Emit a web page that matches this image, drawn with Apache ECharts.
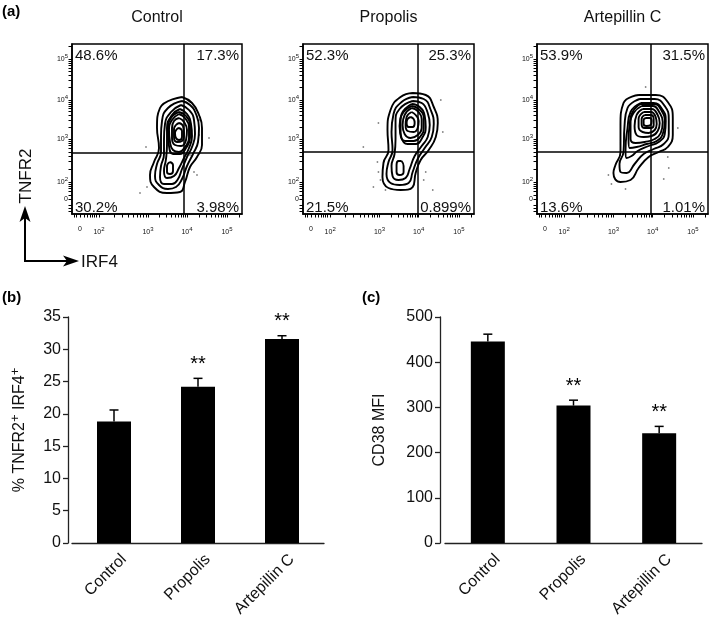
<!DOCTYPE html>
<html><head><meta charset="utf-8">
<script src="https://cdn.jsdelivr.net/npm/echarts@6/dist/echarts.min.js"></script>
<style>html,body{margin:0;padding:0;background:#fff}#c{width:709px;height:624px}</style>
</head><body><div id="c"></div>
<script>
// ---------- Panel (a): flow cytometry contour plots (display units of the biexponential axes) ----------
const flowTitles = ['Control', 'Propolis', 'Artepillin C'];
const quadrantPct = [
  ['48.6%', '17.3%', '30.2%', '3.98%'],
  ['52.3%', '25.3%', '21.5%', '0.899%'],
  ['53.9%', '31.5%', '13.6%', '1.01%']
];
const xTickPos = [8, 27, 76, 115, 155];
const xTickLabels = ['0', '10{s|2}', '10{s|3}', '10{s|4}', '10{s|5}'];
const yTickPos = [15, 32, 75, 114, 155];
const yTickLabels = ['0', '10{s|2}', '10{s|3}', '10{s|4}', '10{s|5}'];
const gateX = [112, 114, 113];
const gateY = [61, 62, 62];

const contoursControl = [
  [[110,117],[120,111],[127,99],[130,86],[130,69],[125,57],[118,47],[113,32],[108,22],[95,21],[82,27],[78,39],[82,52],[87,66],[85,86],[88,106],[110,117]],
  [[110,113],[118,109],[124,100],[127,86],[126,72],[121,60],[115,48],[110,35],[104,27],[96,25],[87,29],[83,38],[85,50],[89,62],[89,78],[90,93],[96,106],[110,113]],
  [[109,109],[117,104],[122,94],[123,80],[120,67],[115,57],[110,45],[106,35],[100,30],[92,30],[88,37],[89,48],[92,60],[92,75],[93,90],[99,102],[109,109]],
  [[108,105],[115,100],[119,90],[120,78],[117,66],[112,56],[107,46],[102,38],[95,36],[92,43],[94,55],[95,70],[95,86],[100,99],[108,105]],
  [[98,52],[101,49],[101,43],[98,40],[95,42],[95,48],[98,52]],
  [[107,102],[114,98],[118,88],[118,76],[114,66],[108,60],[101,60],[97,68],[96,84],[99,96],[107,102]],
  [[107,100],[113,96],[117,87],[117,76],[113,67],[107,62],[101,64],[98,72],[97,84],[100,94],[107,100]],
  [[107,96],[112,92],[115,84],[114,74],[109,68],[103,69],[100,76],[100,86],[102,93],[107,96]],
  [[107,91],[111,88],[112,80],[110,73],[105,72],[102,77],[102,85],[104,89],[107,91]],
  [[107,86],[110,83],[110,77],[107,74],[104,76],[103,81],[105,85],[107,86]]
];
const contoursPropolis = [
  [[109,121],[122,119],[130,107],[134,91],[132,77],[125,64],[117,54],[112,41],[109,27],[97,24],[85,26],[79,37],[80,51],[85,64],[84,84],[87,104],[97,117],[109,121]],
  [[109,117],[120,115],[127,104],[130,90],[128,77],[121,66],[114,55],[109,42],[105,31],[96,29],[87,31],[83,40],[85,52],[89,64],[88,82],[90,100],[98,112],[109,117]],
  [[109,113],[118,111],[124,101],[126,89],[124,77],[118,68],[111,58],[106,45],[102,36],[95,34],[89,38],[88,48],[91,60],[92,75],[92,92],[96,105],[109,113]],
  [[98,53],[100,48],[100,42],[96,39],[93,42],[93,49],[95,53],[98,53]],
  [[108,110],[116,107],[121,98],[122,87],[119,77],[112,70],[104,70],[98,76],[96,88],[98,100],[108,110]],
  [[108,108],[115,105],[120,96],[120,86],[117,78],[110,73],[102,73],[97,80],[97,92],[100,102],[108,108]],
  [[108,106],[114,103],[118,95],[118,86],[114,79],[107,76],[101,80],[99,89],[101,99],[108,106]],
  [[108,102],[112,99],[115,93],[114,86],[110,82],[104,83],[102,89],[103,97],[108,102]],
  [[107,97],[110,95],[111,91],[109,87],[105,87],[103,91],[104,95],[107,97]]
];
const contoursArtepillin = [
  [[101,119],[118,119],[130,112],[135,96],[135,79],[130,67],[121,62],[111,57],[101,46],[93,34],[83,32],[76,41],[78,49],[83,62],[83,89],[86,111],[101,119]],
  [[102,115],[117,115],[127,108],[131,95],[131,80],[126,70],[116,65],[106,60],[97,50],[89,41],[83,42],[82,50],[86,62],[87,88],[90,106],[102,115]],
  [[103,111],[116,111],[125,104],[128,93],[127,80],[121,72],[111,68],[100,63],[94,58],[89,56],[88,64],[90,86],[93,102],[103,111]],
  [[103,110],[116,110],[124,103],[127,92],[125,80],[119,73],[109,70],[99,67],[92,66],[91,75],[92,88],[95,102],[103,110]],
  [[104,108],[115,108],[122,101],[125,92],[123,81],[117,75],[107,72],[98,71],[93,75],[93,90],[96,101],[104,108]],
  [[105,105],[114,105],[120,99],[122,91],[120,83],[114,78],[106,77],[99,79],[97,88],[99,99],[105,105]],
  [[106,102],[113,102],[118,97],[119,90],[117,84],[111,81],[105,82],[101,87],[101,95],[106,102]],
  [[107,99],[113,99],[116,95],[116,89],[113,86],[107,86],[104,90],[104,95],[107,99]],
  [[108,96],[112,96],[114,93],[113,89],[109,88],[106,90],[106,94],[108,96]]
];
const dotsControl = [[74,67],[68,21],[128,94],[127,79],[122,42],[75,27],[118,59],[137,76],[125,39]];
const dotsPropolis = [[75,42],[77,34],[82,24],[74,52],[122,42],[120,34],[139,82],[137,114],[75,91],[60,67],[70,27],[129,24]];
const dotsArtepillin = [[71,39],[130,57],[131,46],[108,127],[140,86],[74,30],[88,25],[126,35]];

// ---------- Panels (b) and (c): bar charts ----------
const barCategories = ['Control', 'Propolis', 'Artepillin C'];
const pctMean = [18.8, 24.2, 31.6];
const pctErr = [1.8, 1.3, 0.5];
const mfiMean = [446, 304, 243];
const mfiErr = [16, 12, 15];
const significance = ['', '**', '**'];
const pctTicks = { min: 0, max: 35, interval: 5 };
const mfiTicks = { min: 0, max: 500, interval: 100 };

// ---------- layout ----------
const FONT = '"Liberation Sans", Arial, Helvetica, sans-serif';
const flowGrids = [
  { left: 72, top: 44, width: 170, height: 170 },
  { left: 303, top: 44, width: 171, height: 170 },
  { left: 537, top: 44, width: 171, height: 170 }
];
const gridB = { left: 72, top: 317, width: 252, height: 226 };
const gridC = { left: 445, top: 317, width: 257, height: 226 };

function decadeMinor(start, span, limit) {
  const out = [];
  for (let k = 2; k <= 9; k++) {
    const v = start + span * Math.log10(k);
    if (v <= limit) out.push(Math.round(v * 10) / 10);
  }
  return out;
}
const xMinor = [2, 4, 12, 15, 18, 20, 22, 24]
  .concat(decadeMinor(27, 49, 170), decadeMinor(76, 39, 170), decadeMinor(115, 40, 170), decadeMinor(155, 40, 170));
const yMinor = [3, 6, 9, 19, 23, 26, 28, 30]
  .concat(decadeMinor(32, 43, 170), decadeMinor(75, 39, 170), decadeMinor(114, 41, 170), decadeMinor(155, 41, 170));
const xAllTicks = xTickPos.concat(xMinor).sort((a, b) => a - b);
const yAllTicks = yTickPos.concat(yMinor).sort((a, b) => a - b);

const supRich = {
  s: { fontSize: 6, fontFamily: FONT, color: '#111', padding: [0, 0, 6, 0] }
};

const grids = [], xAxes = [], yAxes = [], series = [], graphics = [];
const contourSets = [contoursControl, contoursPropolis, contoursArtepillin];
const dotSets = [dotsControl, dotsPropolis, dotsArtepillin];

flowGrids.forEach((g, i) => {
  grids.push(Object.assign({ show: true, borderColor: '#000', borderWidth: 1.5, backgroundColor: 'transparent' }, g));
  const xi = xAxes.length, yi = yAxes.length;
  xAxes.push({
    type: 'value', gridIndex: i, min: 0, max: 170, position: 'bottom',
    axisLine: { show: true, lineStyle: { color: '#000', width: 1.5 } },
    axisTick: { show: true, customValues: xAllTicks, length: 3.5, lineStyle: { color: '#000', width: 1 } },
    axisLabel: {
      customValues: xTickPos, margin: 12, fontSize: 7, fontFamily: FONT, color: '#111', rich: supRich,
      formatter: v => xTickLabels[xTickPos.indexOf(v)]
    },
    splitLine: { show: false }
  });
  yAxes.push({
    type: 'value', gridIndex: i, min: 0, max: 170, position: 'left',
    axisLine: { show: true, lineStyle: { color: '#000', width: 1.5 } },
    axisTick: { show: true, customValues: yAllTicks, length: 3.5, lineStyle: { color: '#000', width: 1 } },
    axisLabel: {
      customValues: yTickPos, margin: 4, fontSize: 7, fontFamily: FONT, color: '#111', rich: supRich,
      formatter: v => yTickLabels[yTickPos.indexOf(v)]
    },
    splitLine: { show: false }
  });
  contourSets[i].forEach((c, k) => {
    series.push({
      type: 'line', xAxisIndex: xi, yAxisIndex: yi, data: c, smooth: 0.5, symbol: 'none',
      lineStyle: { color: '#000', width: 1.9 }, silent: true, z: 3,
      markLine: k === 0 ? {
        silent: true, symbol: 'none', label: { show: false },
        lineStyle: { color: '#000', width: 1.5, type: 'solid' },
        data: [{ xAxis: gateX[i] }, { yAxis: gateY[i] }]
      } : undefined
    });
  });
  series.push({
    type: 'scatter', xAxisIndex: xi, yAxisIndex: yi, data: dotSets[i], symbolSize: 1.8,
    itemStyle: { color: '#666' }, silent: true
  });
  graphics.push({ type: 'text', x: g.left + g.width / 2, y: 18,
    style: { text: flowTitles[i], font: '16px ' + FONT, fill: '#111', align: 'center', verticalAlign: 'middle' } });
  const p = quadrantPct[i];
  const f = '15px ' + FONT;
  graphics.push({ type: 'text', x: g.left + 3, y: g.top + 4, style: { text: p[0], font: f, fill: '#111', align: 'left', verticalAlign: 'top' } });
  graphics.push({ type: 'text', x: g.left + g.width - 3, y: g.top + 4, style: { text: p[1], font: f, fill: '#111', align: 'right', verticalAlign: 'top' } });
  graphics.push({ type: 'text', x: g.left + 3, y: g.top + g.height + 1, style: { text: p[2], font: f, fill: '#111', align: 'left', verticalAlign: 'bottom' } });
  graphics.push({ type: 'text', x: g.left + g.width - 3, y: g.top + g.height + 1, style: { text: p[3], font: f, fill: '#111', align: 'right', verticalAlign: 'bottom' } });
});

// axis direction arrows (TNFR2 / IRF4)
graphics.push({ type: 'line', shape: { x1: 25, y1: 262, x2: 25, y2: 218 }, style: { stroke: '#000', lineWidth: 2 } });
graphics.push({ type: 'polygon', shape: { points: [[25, 206], [19.5, 222], [25, 218], [30.5, 222]] }, style: { fill: '#000' } });
graphics.push({ type: 'line', shape: { x1: 24, y1: 261, x2: 68, y2: 261 }, style: { stroke: '#000', lineWidth: 2 } });
graphics.push({ type: 'polygon', shape: { points: [[79, 261], [63, 255.5], [67, 261], [63, 266.5]] }, style: { fill: '#000' } });
graphics.push({ type: 'text', x: 81, y: 262, style: { text: 'IRF4', font: '17px ' + FONT, fill: '#111', align: 'left', verticalAlign: 'middle' } });
graphics.push({ type: 'text', x: 26, y: 176, rotation: Math.PI / 2, style: { text: 'TNFR2', font: '17px ' + FONT, fill: '#111', align: 'center', verticalAlign: 'middle' } });

// panel letters
graphics.push({ type: 'text', x: 2, y: 4, style: { text: '(a)', font: 'bold 15px ' + FONT, fill: '#000' } });
graphics.push({ type: 'text', x: 2, y: 290, style: { text: '(b)', font: 'bold 15px ' + FONT, fill: '#000' } });
graphics.push({ type: 'text', x: 362, y: 290, style: { text: '(c)', font: 'bold 15px ' + FONT, fill: '#000' } });

// bar charts
function errorBarRenderer(sig) {
  return function (params, api) {
    const i = api.value(0);
    const top = api.coord([i, api.value(1)]);
    const mid = api.coord([i, api.value(2)]);
    const children = [
      { type: 'line', shape: { x1: top[0], y1: top[1], x2: mid[0], y2: mid[1] }, style: { stroke: '#000', lineWidth: 1.5 } },
      { type: 'line', shape: { x1: top[0] - 4.5, y1: top[1], x2: top[0] + 4.5, y2: top[1] }, style: { stroke: '#000', lineWidth: 1.5 } }
    ];
    const s = sig[params.dataIndex];
    if (s) children.push({ type: 'text', style: { text: s, x: top[0], y: top[1] - 4, align: 'center', verticalAlign: 'bottom', font: '20px ' + FONT, fill: '#000' } });
    return { type: 'group', children };
  };
}

function addBarPanel(g, means, errs, ticks, yName, nameGap, yOffset, labelMargin) {
  const gi = grids.length;
  grids.push(Object.assign({ show: false }, g));
  const xi = xAxes.length, yi = yAxes.length;
  xAxes.push({
    type: 'category', gridIndex: gi, data: barCategories,
    axisLine: { show: true, onZero: false, lineStyle: { color: '#222', width: 1.3 } },
    axisTick: { show: false },
    axisLabel: { rotate: 45, fontSize: 16, fontFamily: FONT, color: '#111', margin: 4, align: 'right', verticalAlign: 'top', padding: [6, 0, 0, 0] }
  });
  yAxes.push({
    type: 'value', gridIndex: gi, min: ticks.min, max: ticks.max, interval: ticks.interval, offset: yOffset,
    axisLine: { show: true, lineStyle: { color: '#222', width: 1.3 } },
    axisTick: { show: true, length: 5, lineStyle: { color: '#222', width: 1.3 } },
    axisLabel: { fontSize: 16, fontFamily: FONT, color: '#111', margin: labelMargin },
    splitLine: { show: false },
    name: yName, nameLocation: 'middle', nameGap: nameGap,
    nameTextStyle: {
      fontSize: 16, fontFamily: FONT, color: '#111',
      rich: {
        a: { fontSize: 16, fontFamily: FONT, color: '#111' },
        p: { fontSize: 13, fontFamily: FONT, color: '#111', padding: [0, 0, 9, 0] }
      }
    }
  });
  series.push({
    type: 'bar', xAxisIndex: xi, yAxisIndex: yi, data: means, barWidth: 34,
    itemStyle: { color: '#000' }, silent: true
  });
  series.push({
    type: 'custom', xAxisIndex: xi, yAxisIndex: yi, silent: true, z: 4,
    data: means.map((m, k) => [k, m + errs[k], m]),
    encode: { x: 0, y: [1, 2] },
    renderItem: errorBarRenderer(significance)
  });
}
addBarPanel(gridB, pctMean, pctErr, pctTicks, '{a|% TNFR2}{p|+}{a| IRF4}{p|+}', 37, 4, 7);
addBarPanel(gridC, mfiMean, mfiErr, mfiTicks, 'CD38 MFI', 52, 5, 7);

const chart = echarts.init(document.getElementById('c'), null, { renderer: 'canvas' });
chart.setOption({
  animation: false,
  backgroundColor: '#fff',
  textStyle: { fontFamily: FONT },
  grid: grids,
  xAxis: xAxes,
  yAxis: yAxes,
  series: series,
  graphic: graphics
});
</script>
</body></html>
